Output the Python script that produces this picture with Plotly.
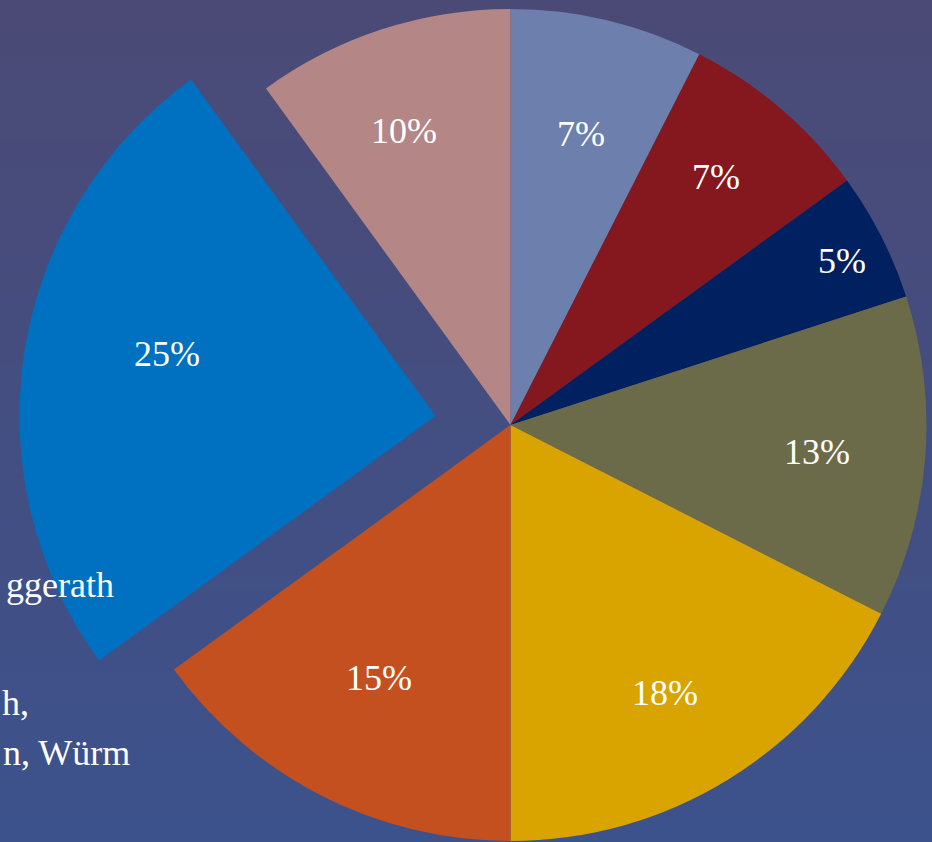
import math
import plotly.graph_objects as go

# ---- data ----
slice_names = ["A", "B", "C", "D", "E", "F", "G", "H"]
slice_values = [3, 3, 2, 5, 7, 6, 10, 4]
slice_labels = ["7%", "7%", "5%", "13%", "18%", "15%", "25%", "10%"]
pulled_slice = 6  # the 25% slice drawn pulled out
side_texts = ["ggerath", "h,", "n, Würm"]

# ---- style ----
slice_colors = ["#6c7fad", "#84181e", "#00205f", "#6b6b4a",
                "#d9a300", "#c4501f", "#0071c1", "#b48686"]
W, H = 932, 842
CX, CY, R = 510.5, 425, 416        # main pie centre / radius (px)
PULL_DX, PULL_DY = -75, -9         # offset of pulled slice (px)
label_rfrac = [0.72, 0.775, 0.89, 0.74, 0.743, 0.685, 0.663, 0.752]
label_dang = [0.2, -0.8, 0.7, 0.5, 1.5, 0.5, 4.0, -2.0]
FONT = "Liberation Serif, Times New Roman, serif"
FS = 36
side_pos = [(116, 585), (31, 703), (132, 753)]  # right edge, centre y (px)


def dom(cx, cy, r):
    x0, x1 = (cx - r) / W, (cx + r) / W
    y0, y1 = 1 - (cy + r) / H, 1 - (cy - r) / H
    return dict(x=[max(0, x0), min(1, x1)], y=[max(0, y0), min(1, y1)])


transparent = "rgba(0,0,0,0)"
main_colors = [c if i != pulled_slice else transparent for i, c in enumerate(slice_colors)]
pull_colors = [c if i == pulled_slice else transparent for i, c in enumerate(slice_colors)]

fig = go.Figure()
fig.add_trace(go.Pie(
    labels=slice_names, values=slice_values, sort=False, direction="clockwise",
    rotation=0, marker=dict(colors=main_colors, line=dict(width=0)),
    textinfo="none", hoverinfo="skip", domain=dom(CX, CY, R), showlegend=False,
))
fig.add_trace(go.Pie(
    labels=slice_names, values=slice_values, sort=False, direction="clockwise",
    rotation=0, marker=dict(colors=pull_colors, line=dict(width=0)),
    textinfo="none", hoverinfo="skip",
    domain=dom(CX + PULL_DX, CY + PULL_DY, R), showlegend=False,
))

# background gradient
top = (0x4b, 0x4a, 0x76)
bot = (0x3c, 0x52, 0x8c)
n = 60
shapes = []
for i in range(n):
    t = i / (n - 1)
    col = tuple(round(top[k] + (bot[k] - top[k]) * t) for k in range(3))
    shapes.append(dict(type="rect", xref="paper", yref="paper",
                       x0=0, x1=1, y0=1 - (i + 1) / n, y1=1 - i / n + 0.001,
                       fillcolor="rgb(%d,%d,%d)" % col, line=dict(width=0),
                       layer="below"))

# slice labels
annotations = []
total = sum(slice_values)
cum = 0
for i, v in enumerate(slice_values):
    mid = (cum + v / 2) / total * 360 + label_dang[i]
    cum += v
    cx, cy = (CX, CY) if i != pulled_slice else (CX + PULL_DX, CY + PULL_DY)
    rr = R * label_rfrac[i]
    px = cx + rr * math.sin(math.radians(mid))
    py = cy - rr * math.cos(math.radians(mid))
    annotations.append(dict(x=px / W, y=1 - py / H, xref="paper", yref="paper",
                            text=slice_labels[i], showarrow=False,
                            font=dict(family=FONT, size=FS, color="white"),
                            xanchor="center", yanchor="middle"))

for txt, (rx, ry) in zip(side_texts, side_pos):
    annotations.append(dict(x=rx / W, y=1 - ry / H, xref="paper", yref="paper",
                            text=txt, showarrow=False,
                            font=dict(family=FONT, size=FS, color="white"),
                            xanchor="right", yanchor="middle"))

fig.update_layout(
    width=W, height=H, margin=dict(l=0, r=0, t=0, b=0),
    paper_bgcolor="#44507f", plot_bgcolor="rgba(0,0,0,0)",
    shapes=shapes, annotations=annotations, showlegend=False,
)
fig.write_html(
    "out.html",
    config={"displayModeBar": False},
    post_script="document.body.style.margin='0';document.documentElement.style.overflow='hidden';document.body.style.background='#44507f';",
)
